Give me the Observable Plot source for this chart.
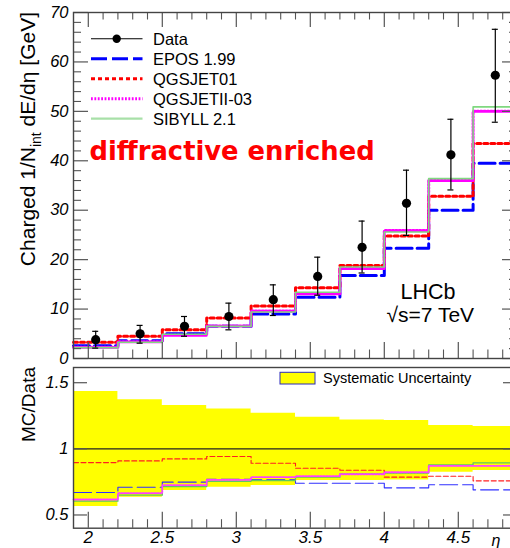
<!DOCTYPE html>
<html><head><meta charset="utf-8">
<script src="https://cdn.jsdelivr.net/npm/d3@7"></script>
<script src="https://cdn.jsdelivr.net/npm/@observablehq/plot@0.6"></script>
<style>
html,body{margin:0;padding:0;background:#fff;overflow:hidden;}
#wrap{position:relative;width:510px;height:548px;overflow:hidden;background:#fff;}
#wrap svg{position:absolute;left:0;max-width:none !important;}
</style></head><body><div id="wrap"></div>
<script>
// ---------- data ----------
const binEdges = [1.9, 2.2, 2.5, 2.8, 3.1, 3.4, 3.7, 4.0, 4.3, 4.6, 4.9];
const dataValues = [3.8, 5.0, 6.5, 8.5, 11.9, 16.6, 22.5, 31.4, 41.2, 57.3];
const dataUpper  = [5.5, 6.7, 8.5, 11.2, 14.9, 20.5, 27.8, 38.1, 48.4, 66.6];
const dataLower  = [2.1, 3.1, 4.5, 5.8, 8.7, 12.8, 17.3, 24.9, 34.1, 47.8];
const eposValues     = [2.6, 3.6, 5.0, 6.5, 9.0, 12.4, 16.8, 22.3, 30.0, 39.5];
const qgsjet01Values = [3.3, 4.5, 5.8, 8.2, 10.6, 14.3, 18.8, 24.8, 32.8, 43.5];
const qgsjet2Values  = [2.3, 3.4, 4.7, 6.6, 9.6, 13.1, 18.2, 25.9, 36.0, 50.0];
const sibyllValues   = [2.2, 3.3, 4.9, 6.5, 9.4, 13.4, 18.5, 25.6, 36.4, 50.9];
const eposRatio     = [0.670, 0.710, 0.748, 0.770, 0.766, 0.740, 0.740, 0.705, 0.728, 0.690];
const qgsjet01Ratio = [0.896, 0.909, 0.924, 0.942, 0.891, 0.853, 0.838, 0.786, 0.793, 0.758];
const qgsjet2Ratio  = [0.617, 0.665, 0.725, 0.766, 0.786, 0.793, 0.808, 0.823, 0.871, 0.871];
const sibyllRatio   = [0.604, 0.650, 0.715, 0.755, 0.760, 0.786, 0.811, 0.816, 0.879, 0.894];
const sysUpper = [1.433, 1.372, 1.327, 1.302, 1.269, 1.239, 1.219, 1.214, 1.176, 1.168];
const sysLower = [0.565, 0.634, 0.685, 0.710, 0.723, 0.760, 0.760, 0.765, 0.823, 0.836];
const seriesNames = ["Data", "EPOS 1.99", "QGSJET01", "QGSJETII-03", "SIBYLL 2.1"];
const yTicksTop = [0, 10, 20, 30, 40, 50, 60, 70];
const yTicksRatio = [0.5, 1, 1.5];
const xTicks = [2, 2.5, 3, 3.5, 4, 4.5];

// ---------- layout / style ----------
const FONT = "'Liberation Sans', Arial, Helvetica, sans-serif";
const W = 560, ML = 73, MR = 43, innerW = W - ML - MR;
const H1 = 362, MT1 = 12, MB1 = 4, innerH1 = H1 - MT1 - MB1;
const H2 = 186, MT2 = 5, MB2 = 20.3, innerH2 = H2 - MT2 - MB2;
const TICK = "#555", FRAME = "#444";
const styles = {
  epos: {stroke: "#0000ff", strokeWidth: 3, strokeDasharray: "16,5"},
  q01:  {stroke: "#ff0000", strokeWidth: 3, strokeDasharray: "4,3"},
  q2:   {stroke: "#ff00ff", strokeWidth: 3, strokeDasharray: "1.8,1.6"},
  sib:  {stroke: "#80d880", strokeWidth: 1.6}
};
const rstyles = {
  epos: {stroke: "#3030ff", strokeWidth: 1.1, strokeDasharray: "18,5"},
  q01:  {stroke: "#ff2020", strokeWidth: 1.1, strokeDasharray: "5,2.5"},
  q2:   {stroke: "#ff40ff", strokeWidth: 1.8, strokeDasharray: "1.6,1.4"},
  sib:  {stroke: "#60c860", strokeWidth: 1.3}
};

const hist = vals => binEdges.map((x, i) => ({x, y: vals[Math.min(i, vals.length - 1)]}));
const centers = dataValues.map((v, i) => (binEdges[i] + binEdges[i + 1]) / 2);
const points = dataValues.map((v, i) => ({x: centers[i], v, hi: dataUpper[i], lo: dataLower[i]}));
const band = binEdges.map((x, i) => {
  const j = Math.min(i, sysUpper.length - 1);
  return {x, lo: sysLower[j], hi: sysUpper[j]};
});
const xMinor = d3.range(20, 49).map(k => k / 10).filter(v => !xTicks.includes(v));
const yMinorTop = d3.range(2, 70, 2).filter(v => v % 10 !== 0);

function frameTicks(innerH, yMaj, yMin, yMajLen, yMinLen, withTopX) {
  const m = [
    Plot.tickY(yMaj, {y: d => d, insetRight: innerW - yMajLen, stroke: TICK, strokeWidth: 1.2}),
    Plot.tickY(yMaj, {y: d => d, insetLeft: innerW - yMajLen, stroke: TICK, strokeWidth: 1.2}),
    Plot.tickX(xTicks, {x: d => d, insetTop: innerH - 16, stroke: TICK, strokeWidth: 1.2}),
    Plot.tickX(xMinor, {x: d => d, insetTop: innerH - 8.5, stroke: TICK, strokeWidth: 1.1})
  ];
  if (yMin.length) {
    m.push(Plot.tickY(yMin, {y: d => d, insetRight: innerW - yMinLen, stroke: TICK, strokeWidth: 1.1}));
    m.push(Plot.tickY(yMin, {y: d => d, insetLeft: innerW - yMinLen, stroke: TICK, strokeWidth: 1.1}));
  }
  if (withTopX) {
    m.push(Plot.tickX(xTicks, {x: d => d, insetBottom: innerH - 15, stroke: TICK, strokeWidth: 1.2}));
    m.push(Plot.tickX(xMinor, {x: d => d, insetBottom: innerH - 7.5, stroke: TICK, strokeWidth: 1.1}));
  }
  m.push(Plot.frame({stroke: FRAME, strokeWidth: 1.4}));
  return m;
}

// ---------- top panel ----------
const topSvg = Plot.plot({
  width: W, height: H1, marginLeft: ML, marginRight: MR, marginTop: MT1, marginBottom: MB1,
  style: {fontFamily: FONT, background: "transparent", overflow: "visible", maxWidth: "none"},
  x: {domain: [1.9, 4.9], axis: null},
  y: {domain: [0, 70], axis: null},
  marks: [
    Plot.line(hist(eposValues), {x: "x", y: "y", curve: "step-after", ...styles.epos}),
    Plot.line(hist(qgsjet01Values), {x: "x", y: "y", curve: "step-after", ...styles.q01}),
    Plot.line(hist(qgsjet2Values), {x: "x", y: "y", curve: "step-after", ...styles.q2}),
    Plot.line(hist(sibyllValues), {x: "x", y: "y", curve: "step-after", ...styles.sib}),
    Plot.ruleX(points, {x: "x", y1: "lo", y2: "hi", stroke: "black", strokeWidth: 1.2}),
    Plot.ruleY(points, {y: "hi", x1: "x", x2: "x", insetLeft: -3, insetRight: -3, stroke: "black", strokeWidth: 1.2}),
    Plot.ruleY(points, {y: "lo", x1: "x", x2: "x", insetLeft: -3, insetRight: -3, stroke: "black", strokeWidth: 1.2}),
    Plot.dot(points, {x: "x", y: "v", r: 4.6, fill: "black", stroke: "none"}),
    ...frameTicks(innerH1, yTicksTop, yMinorTop, 15, 8, true),
    Plot.axisY({ticks: yTicksTop, anchor: "left", tickSize: 0, tickPadding: 5, label: null,
      tickFormat: d => String(d), fontSize: 16.5, fontStyle: "italic", fontFamily: FONT}),
    Plot.text(["diffractive enriched"], {frameAnchor: "top-left", dx: 16, dy: 147.5, textAnchor: "start",
      lineAnchor: "bottom", fill: "#ff0000", fontWeight: "bold", fontSize: 25.8, fontFamily: "'DejaVu Sans', sans-serif"}),
    Plot.text(["LHCb"], {frameAnchor: "top-left", dx: 327, dy: 286.3, textAnchor: "start",
      lineAnchor: "bottom", fill: "black", fontSize: 21.5, fontFamily: FONT}),
    Plot.text(["\u221As=7 TeV"], {frameAnchor: "top-left", dx: 313, dy: 309.7, textAnchor: "start",
      lineAnchor: "bottom", fill: "black", fontSize: 21, fontFamily: FONT})
  ]
});
topSvg.style.top = "0px";

// legend (top panel)
{
  const g = d3.select(topSvg).append("g").attr("font-family", FONT).attr("font-size", 16.5)
    .attr("text-anchor", "start");
  const legStyles = [null, styles.epos, styles.q01, styles.q2, styles.sib];
  seriesNames.forEach((name, i) => {
    const cy = 38.7 + 20 * i;
    const s = legStyles[i];
    const line = g.append("line").attr("x1", 91).attr("x2", 142.5).attr("y1", cy).attr("y2", cy);
    if (s) {
      line.attr("stroke", s.stroke).attr("stroke-width", s.strokeWidth);
      if (s.strokeDasharray) line.attr("stroke-dasharray", s.strokeDasharray);
      if (i === 4) line.attr("stroke", "#a8e0a8").attr("stroke-width", 2.2);
    } else {
      line.attr("stroke", "black").attr("stroke-width", 1.1);
      g.append("circle").attr("cx", 116.7).attr("cy", cy).attr("r", 4.2).attr("fill", "black");
    }
    g.append("text").attr("x", 153).attr("y", cy).attr("dy", "0.36em").attr("fill", "black")
      .attr("text-anchor", "start").text(name);
  });
  // y-axis title with subscript
  const t = d3.select(topSvg).append("text")
    .attr("transform", "translate(35,12) rotate(-90)")
    .attr("text-anchor", "end").attr("font-family", FONT).attr("font-size", 21).attr("fill", "black");
  t.append("tspan").text("Charged 1/N");
  t.append("tspan").attr("font-size", 14).attr("dy", 6).text("int");
  t.append("tspan").attr("dy", -6).text(" dE/d\u03B7 [GeV]");
}

// ---------- ratio panel ----------
const bottomSvg = Plot.plot({
  width: W, height: H2, marginLeft: ML, marginRight: MR, marginTop: MT2, marginBottom: MB2,
  style: {fontFamily: FONT, background: "transparent", overflow: "visible", maxWidth: "none"},
  x: {domain: [1.9, 4.9], axis: null},
  y: {domain: [0.4, 1.615], axis: null},
  marks: [
    Plot.areaY(band, {x: "x", y1: "lo", y2: "hi", curve: "step-after", fill: "#ffff00"}),
    Plot.ruleY([1], {stroke: "#222", strokeWidth: 1.2}),
    Plot.line(hist(eposRatio), {x: "x", y: "y", curve: "step-after", ...rstyles.epos}),
    Plot.line(hist(qgsjet01Ratio), {x: "x", y: "y", curve: "step-after", ...rstyles.q01}),
    Plot.line(hist(sibyllRatio), {x: "x", y: "y", curve: "step-after", ...rstyles.sib}),
    Plot.line(hist(qgsjet2Ratio), {x: "x", y: "y", curve: "step-after", ...rstyles.q2}),
    ...frameTicks(innerH2, yTicksRatio, [], 14, 0, false),
    Plot.axisY({ticks: yTicksRatio, anchor: "left", tickSize: 0, tickPadding: 5, label: null,
      tickFormat: d => String(d), fontSize: 16.5, fontStyle: "italic", fontFamily: FONT}),
    Plot.axisX({ticks: xTicks, anchor: "bottom", tickSize: 0, tickPadding: 3, label: null,
      tickFormat: d => String(d), fontSize: 17, fontStyle: "italic", fontFamily: FONT}),
    Plot.text(["\u03B7"], {frameAnchor: "bottom-right", dx: -26, dy: 18, textAnchor: "start",
      lineAnchor: "bottom", fill: "black", fontSize: 16, fontStyle: "italic", fontFamily: FONT})
  ]
});
bottomSvg.style.top = "362px";
{
  const g = d3.select(bottomSvg).append("g").attr("font-family", FONT).attr("text-anchor", "start");
  g.append("rect").attr("x", 280).attr("y", 10.3).attr("width", 35).attr("height", 11.7)
    .attr("fill", "#ffff00").attr("stroke", "#2b2bbb").attr("stroke-width", 1);
  g.append("text").attr("x", 323).attr("y", 20.7).attr("font-size", 14.5).attr("fill", "black")
    .attr("text-anchor", "start").text("Systematic Uncertainty");
  d3.select(bottomSvg).append("text")
    .attr("transform", "translate(35,5) rotate(-90)")
    .attr("text-anchor", "end").attr("font-family", FONT).attr("font-size", 19).attr("fill", "black")
    .text("MC/Data");
}

const wrap = document.getElementById("wrap");
wrap.appendChild(topSvg);
wrap.appendChild(bottomSvg);
</script></body></html>
